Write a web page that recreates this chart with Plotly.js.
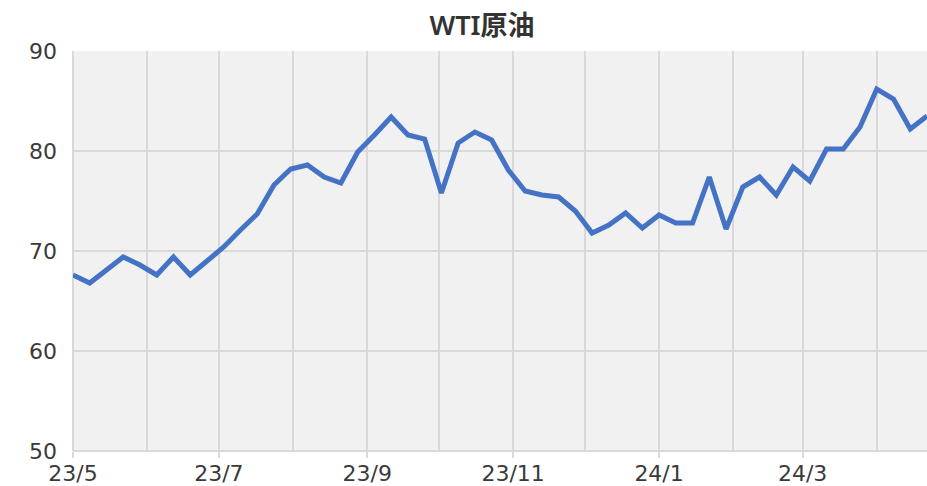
<!DOCTYPE html>
<html>
<head>
<meta charset="utf-8">
<script src="https://cdn.plot.ly/plotly-3.0.1.min.js"></script>
<style>html,body{margin:0;padding:0;background:#fff;}#chart{width:927px;height:486px;}</style>
</head>
<body>
<div id="chart"></div>
<script>
const chartTitle = "WTI原油";
const dates = [
  "2023-05-01","2023-05-08","2023-05-15","2023-05-22","2023-05-29",
  "2023-06-05","2023-06-12","2023-06-19","2023-06-26",
  "2023-07-03","2023-07-10","2023-07-17","2023-07-24","2023-07-31",
  "2023-08-07","2023-08-14","2023-08-21","2023-08-28",
  "2023-09-04","2023-09-11","2023-09-18","2023-09-25",
  "2023-10-02","2023-10-09","2023-10-16","2023-10-23","2023-10-30",
  "2023-11-06","2023-11-13","2023-11-20","2023-11-27",
  "2023-12-04","2023-12-11","2023-12-18","2023-12-25",
  "2024-01-01","2024-01-08","2024-01-15","2024-01-22","2024-01-29",
  "2024-02-05","2024-02-12","2024-02-19","2024-02-26",
  "2024-03-04","2024-03-11","2024-03-18","2024-03-25",
  "2024-04-01","2024-04-08","2024-04-15","2024-04-22"
];
const prices = [
  67.6, 66.8, 68.1, 69.4, 68.6,
  67.6, 69.4, 67.6, 69.0,
  70.4, 72.1, 73.7, 76.6, 78.2,
  78.6, 77.4, 76.8, 79.9,
  81.6, 83.4, 81.6, 81.2,
  75.8, 80.8, 81.9, 81.1, 78.1,
  76.0, 75.6, 75.4, 74.0,
  71.8, 72.6, 73.8, 72.3,
  73.6, 72.8, 72.8, 77.4, 72.2,
  76.4, 77.4, 75.6, 78.4,
  77.0, 80.2, 80.2, 82.4,
  86.2, 85.2, 82.2, 83.5
];
const yTicks = [50, 60, 70, 80, 90];

const gridColor = "#d9d9d9";
const textColor = "#3a3a3a";
const titleFont = "'Noto Sans', 'Noto Sans CJK JP', sans-serif";
const tickFont = "'DejaVu Sans', 'Noto Sans', sans-serif";

const trace = {
  x: dates,
  y: prices,
  type: "scatter",
  mode: "lines",
  line: {color: "#4472c4", width: 5},
  hoverinfo: "skip"
};

const layout = {
  width: 927,
  height: 486,
  margin: {l: 73, r: 0, t: 51, b: 35, pad: 0},
  paper_bgcolor: "#ffffff",
  plot_bgcolor: "#f1f1f1",
  showlegend: false,
  font: {family: tickFont, color: textColor, size: 22},
  title: {
    text: chartTitle,
    font: {family: titleFont, size: 27, color: "#333333", weight: 600},
    x: 482 / 927, xanchor: "center", xref: "container",
    y: 1 - 26 / 486, yanchor: "middle", yref: "container"
  },
  xaxis: {
    type: "date",
    range: [dates[0], dates[dates.length - 1]],
    tick0: "2023-05-01",
    dtick: "M2",
    tickformat: "%y/%-m",
    ticks: "outside",
    ticklen: 6,
    tickwidth: 2,
    tickcolor: gridColor,
    ticklabelstandoff: -3,
    showgrid: true,
    gridcolor: gridColor,
    gridwidth: 2,
    minor: {dtick: "M1", showgrid: true, gridcolor: gridColor, gridwidth: 2, ticks: ""},
    showline: false,
    zeroline: false,
    tickfont: {family: tickFont, size: 22, color: textColor},
    fixedrange: true
  },
  yaxis: {
    range: [50, 90],
    tickvals: yTicks,
    ticktext: yTicks.map(String),
    showgrid: true,
    gridcolor: gridColor,
    gridwidth: 2,
    zeroline: false,
    showline: false,
    ticks: "",
    ticklabelstandoff: 15,
    tickfont: {family: tickFont, size: 22, color: textColor},
    fixedrange: true
  },
  shapes: [
    {type: "line", xref: "paper", yref: "paper", x0: 0, x1: 0, y0: 0, y1: 1, line: {color: gridColor, width: 2}, layer: "below"},
    {type: "line", xref: "paper", yref: "paper", x0: 0, x1: 1, y0: 0, y1: 0, line: {color: gridColor, width: 2}, layer: "below"}
  ]
};

Plotly.newPlot("chart", [trace], layout, {displayModeBar: false, staticPlot: true});
</script>
</body>
</html>
